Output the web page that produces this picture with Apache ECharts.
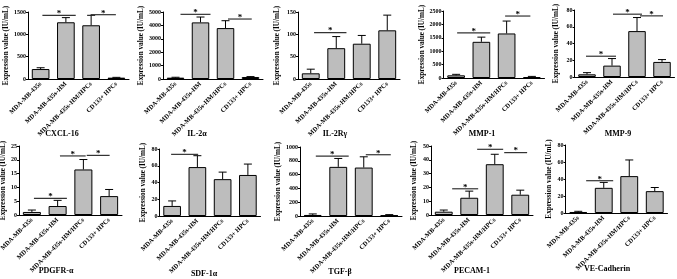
<!DOCTYPE html>
<html><head><meta charset="utf-8">
<script src="https://cdn.jsdelivr.net/npm/echarts@6/dist/echarts.min.js"></script>
<style>html,body{margin:0;padding:0;background:#fff}#c{width:677px;height:279px}</style>
</head><body><div id="c"></div>
<script>
// ---------- data ----------
const categories = ['MDA-MB-435s', 'MDA-MB-435s-HM', 'MDA-MB-435s-HM/HPCs', 'CD133+ HPCs'];
const panelTitles = ['CXCL-16', 'IL-2α', 'IL-2Rγ', 'MMP-1', 'MMP-9', 'PDGFR-α', 'SDF-1α', 'TGF-β', 'PECAM-1', 'VE-Cadherin'];
const yAxisTitle = 'Expression value (IU/mL)';

const cxcl16Mean = [223, 1270, 1203, 30];   const cxcl16Err = [29, 104, 223, 7];
const il2aMean   = [100, 4225, 3800, 150];  const il2aErr   = [30, 400, 550, 30];
const il2rgMean  = [12.7, 69, 79, 109];     const il2rgErr  = [9.3, 26, 18.5, 34];
const mmp1Mean   = [100, 1350, 1662, 37];   const mmp1Err   = [37, 175, 463, 23];
const mmp9Mean   = [3.2, 13.6, 54.8, 18];   const mmp9Err   = [2, 8.4, 16.2, 2.8];
const pdgfraMean = [1.1, 3.25, 16.5, 6.85]; const pdgfraErr = [0.7, 2.05, 3.6, 2.4];
const sdf1aMean  = [12, 58.4, 44, 49];      const sdf1aErr  = [6, 13.6, 8.4, 13];
const tgfbMean   = [15, 712, 702, 10];      const tgfbErr   = [15, 122, 156, 10];
const pecam1Mean = [2.4, 12.5, 36.8, 14.7]; const pecam1Err = [1.2, 4.8, 7.2, 3.3];
const vecadMean  = [1.2, 29.6, 43.4, 25.7]; const vecadErr  = [0.8, 6.4, 19, 4.3];

const yMax  = [1500, 5000, 150, 2500, 80, 25, 80, 1000, 50, 80];
const yStep = [500, 1000, 50, 500, 20, 5, 20, 200, 10, 20];

// significance bars: [from (category units), to (category units), y value]
const cxcl16Sig = [[0.07, 1.39, 1426], [1.98, 2.98, 1440]];
const il2aSig   = [[0.2, 1.4, 4825], [2.1, 3.05, 4475]];
const il2rgSig  = [[0.13, 1.4, 104]];
const mmp1Sig   = [[0.04, 1.35, 1687], [1.94, 2.94, 2312]];
const mmp9Sig   = [[-0.04, 1.16, 24.8], [1.04, 2.2, 75], [2.12, 3.04, 73]];
const pdgfraSig = [[0.08, 1.36, 6.0], [1.09, 2.09, 21.4], [2.13, 3.02, 21.6]];
const sdf1aSig  = [[-0.04, 1.03, 73.6]];
const tgfbSig   = [[0.12, 1.41, 868], [2.08, 3.06, 888]];
const pecam1Sig = [[0.33, 1.35, 19], [1.31, 2.33, 47.6], [2.37, 3.27, 45.2]];
const vecadSig  = [[0.31, 1.37, 38]];

const means = [cxcl16Mean, il2aMean, il2rgMean, mmp1Mean, mmp9Mean, pdgfraMean, sdf1aMean, tgfbMean, pecam1Mean, vecadMean];
const errs  = [cxcl16Err, il2aErr, il2rgErr, mmp1Err, mmp9Err, pdgfraErr, sdf1aErr, tgfbErr, pecam1Err, vecadErr];
const sigs  = [cxcl16Sig, il2aSig, il2rgSig, mmp1Sig, mmp9Sig, pdgfraSig, sdf1aSig, tgfbSig, pecam1Sig, vecadSig];

// ---------- layout ----------
const gridBoxes = [
  [28, 12, 101, 67], [163, 12, 100, 67], [298, 12, 102, 67], [443.5, 11, 101, 67], [574.5, 10, 100, 67],
  [19, 146, 103, 69], [159.5, 149, 101, 67], [300, 147, 102, 69], [431, 146, 102, 69], [565.5, 145, 102, 68]
];
const nameGaps = [18, 16, 17, 16, 15, 11, 13, 15, 13, 13];
const titlePos = [[62, 135], [197, 135], [335, 135], [482, 135], [618, 135],
                  [56, 272], [204, 275], [340, 273], [472, 272], [607, 270]];

const FONT = 'Liberation Serif';
const chart = echarts.init(document.getElementById('c'));

function errItem(m, e) {
  return function (params, api) {
    const i = params.dataIndex;
    const base = api.coord([i, m[i]]);
    const top = api.coord([i, m[i] + e[i]]);
    const cw = 4;
    return { type: 'group', children: [
      { type: 'line', shape: { x1: base[0], y1: base[1], x2: top[0], y2: top[1] }, style: { stroke: '#000', lineWidth: 1 } },
      { type: 'line', shape: { x1: top[0] - cw, y1: top[1], x2: top[0] + cw, y2: top[1] }, style: { stroke: '#000', lineWidth: 1 } }
    ]};
  };
}
function sigItem(list) {
  return function (params, api) {
    const s = list[params.dataIndex];
    const p0 = api.coord([0, s[2]]);
    const band = api.size([1, 0])[0];
    const x0 = p0[0] + s[0] * band, x1 = p0[0] + s[1] * band;
    return { type: 'group', children: [
      { type: 'line', shape: { x1: x0, y1: p0[1], x2: x1, y2: p0[1] }, style: { stroke: '#333', lineWidth: 1.2 } },
      { type: 'text', style: { text: '*', x: (x0 + x1) / 2, y: p0[1] + 3, align: 'center', verticalAlign: 'bottom',
          font: 'bold 9px "' + FONT + '"', fill: '#000' } }
    ]};
  };
}

const grid = [], xAxis = [], yAxis = [], series = [], title = [];
for (let k = 0; k < 10; k++) {
  const b = gridBoxes[k];
  grid.push({ left: b[0], top: b[1], width: b[2], height: b[3], containLabel: false, outerBoundsMode: 'none' });
  xAxis.push({
    type: 'category', gridIndex: k, data: categories,
    axisLine: { lineStyle: { color: '#000', width: 1 } },
    axisTick: { alignWithLabel: true, length: 2, lineStyle: { color: '#000' } },
    axisLabel: { rotate: 45, interval: 0, margin: 4, fontSize: 6.5, fontWeight: 'bold', fontFamily: FONT, color: '#000', hideOverlap: false }
  });
  yAxis.push({
    type: 'value', gridIndex: k, min: 0, max: yMax[k], interval: yStep[k],
    name: yAxisTitle, nameLocation: 'middle', nameGap: nameGaps[k], nameRotate: 90,
    nameTextStyle: { fontSize: 7.2, fontWeight: 'bold', fontFamily: FONT, color: '#000' },
    axisLine: { show: true, lineStyle: { color: '#000', width: 1 } },
    axisTick: { show: true, length: 2, lineStyle: { color: '#000' } },
    splitLine: { show: false },
    axisLabel: { margin: 2, fontSize: 6, fontWeight: 'bold', fontFamily: FONT, color: '#000', formatter: v => String(v), hideOverlap: false }
  });
  series.push({
    type: 'bar', xAxisIndex: k, yAxisIndex: k, data: means[k], barWidth: '70%',
    itemStyle: { color: '#bdbdbd', borderColor: '#000', borderWidth: 1 }, silent: true
  });
  series.push({
    type: 'custom', xAxisIndex: k, yAxisIndex: k, renderItem: errItem(means[k], errs[k]),
    data: means[k].map((v, i) => [i, v + errs[k][i]]), z: 3, silent: true
  });
  series.push({
    type: 'custom', xAxisIndex: k, yAxisIndex: k, renderItem: sigItem(sigs[k]),
    data: sigs[k].map(s => [0, s[2]]), z: 4, silent: true
  });
  title.push({
    text: panelTitles[k], left: titlePos[k][0], top: titlePos[k][1] - 5, textAlign: 'center',
    textStyle: { fontSize: 8, fontWeight: 'bold', fontFamily: FONT, color: '#000' }, padding: 0
  });
}

chart.setOption({ animation: false, backgroundColor: '#fff', title, grid, xAxis, yAxis, series });
</script>
</body></html>
